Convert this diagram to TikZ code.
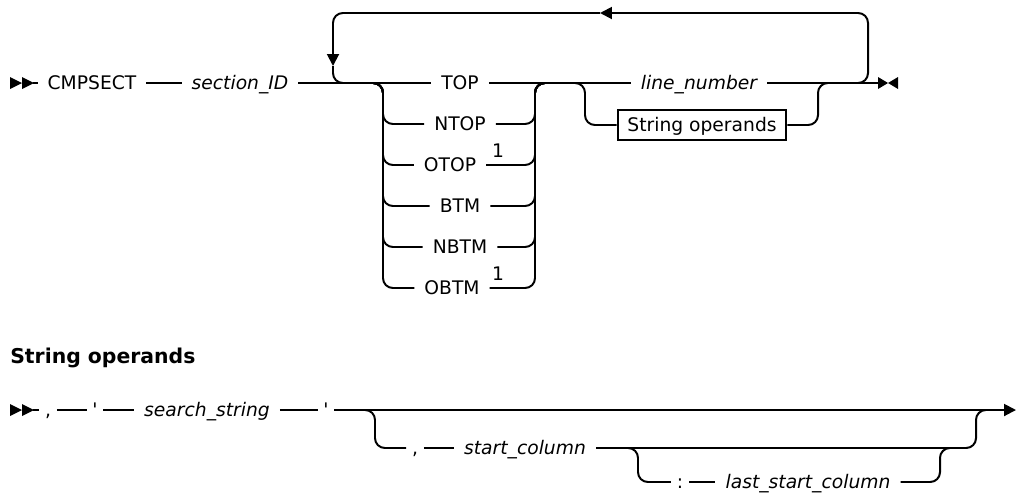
\documentclass[tikz,border=0pt]{standalone}
\usepackage{fontspec}
\setmainfont{DejaVu Sans}
\newfontfamily\quotefont{DejaVu Sans}[Ligatures=TeXOff]
\usetikzlibrary{arrows.meta,positioning}

\begin{document}
\begin{tikzpicture}[x=0.025cm, y=-0.025cm,
    rail/.style={line width=1.4pt, rounded corners=7pt},
    kw/.style={font=\fontsize{13.3}{16}\selectfont, inner xsep=7pt, inner ysep=2pt, text height=11.5pt, text depth=1.8pt},
    var/.style={kw, font=\fontsize{13.3}{16}\selectfont\itshape},
    sym/.style={kw, inner xsep=4pt},
    ref/.style={kw, draw, line width=1.4pt, inner xsep=7pt, inner ysep=4pt},
    note/.style={font=\fontsize{13.3}{16}\selectfont, inner sep=0pt},
    hdr/.style={font=\fontsize{14.5}{18}\selectfont\bfseries, inner sep=0pt, anchor=west},
    tip/.style={-{Triangle[length=8.5pt,width=8.5pt]}}
]
\useasboundingbox (0,0) rectangle (1016,496);

% --- Start / end markers ---
\foreach \y in {83,410} {
  \fill (10,\y-6) -- (22,\y) -- (10,\y+6) -- cycle;
  \fill (22,\y-6) -- (34,\y) -- (22,\y+6) -- cycle;
}
\fill (878,77) -- (888,83) -- (878,89) -- cycle;
\fill (898,77) -- (888,83) -- (898,89) -- cycle;

% --- Main diagram ---
\coordinate (in1) at (33,83);
\coordinate (out1) at (878,83);
\node[kw] (cmp) at (92,83) {CMPSECT};
\node[var] (sid) at (240,83) {section\_ID};
\node[kw] (top) at (460,83) {TOP};
\node[kw] (ntop) at (460,124) {NTOP};
\node[kw] (otop) at (450,165) {OTOP};
\node[kw] (btm) at (460,206) {BTM};
\node[kw] (nbtm) at (460,247) {NBTM};
\node[kw] (obtm) at (452,288) {OBTM};
\node[note] (fn1) at (498,151) {1};
\node[note] (fn2) at (498,274) {1};
\node[var] (lnum) at (699,83) {line\_number};
\node[ref] (sop) at (702,125) {String operands};

\draw[rail] (in1) -- (cmp);
\draw[rail] (cmp) -- (sid);
\draw[rail] (sid) -- (top);
\draw[rail] (top) -- (lnum);
\draw[rail] (lnum) -- (out1);

% choice of position keyword
\coordinate (c1in) at (372,83);
\coordinate (c1l) at (383,83);
\coordinate (c1r) at (535,83);
\coordinate (c1out) at (546,83);
\foreach \n in {ntop,otop,btm,nbtm,obtm} {
  \draw[rail] (c1in) -- (c1l) |- (\n);
  \draw[rail] (\n) -| (c1r) -- (c1out);
}

% line number or string operands
\coordinate (c2in) at (574,83);
\coordinate (c2l) at (585,83);
\coordinate (c2r) at (818,83);
\coordinate (c2out) at (829,83);
\draw[rail] (c2in) -- (c2l) |- (sop);
\draw[rail] (sop) -| (c2r) -- (c2out);

% repeat loop
\coordinate (lpR0) at (856,83);
\coordinate (lpR) at (868,83);
\coordinate (lpT) at (868,13);
\coordinate (lpA) at (600,13);
\coordinate (lpTL) at (333,13);
\coordinate (lpB) at (333,66);
\coordinate (lpBL) at (333,83);
\coordinate (lpEnd) at (346,83);
\draw[rail, tip] (lpR0) -- (lpR) -- (lpT) -- (lpA);
\draw[rail, tip] (lpA) -- (lpTL) -- (lpB);
\draw[rail] (lpB) -- (lpBL) -- (lpEnd);

% --- String operands fragment ---
\node[hdr] (soph) at (10,358) {String operands};
\coordinate (in2) at (33,410);
\coordinate (out2) at (1016,410);
\node[sym] (com1) at (48,410) {,};
\node[sym] (q1) at (95,410) {\quotefont '};
\node[var] (sstr) at (207,410) {search\_string};
\node[sym] (q2) at (326,410) {\quotefont '};
\draw[rail] (in2) -- (com1);
\draw[rail] (com1) -- (q1);
\draw[rail] (q1) -- (sstr);
\draw[rail] (sstr) -- (q2);
\draw[rail, tip] (q2) -- (out2);

\coordinate (b1in) at (364,410);
\coordinate (b1l) at (375,410);
\coordinate (b1r) at (976,410);
\coordinate (b1out) at (987,410);
\node[sym] (com2) at (415,448) {,};
\node[var] (scol) at (525,448) {start\_column};
\draw[rail] (b1in) -- (b1l) |- (com2);
\draw[rail] (com2) -- (scol);
\draw[rail] (scol) -| (b1r) -- (b1out);

\coordinate (b2in) at (627,448);
\coordinate (b2l) at (638,448);
\coordinate (b2r) at (940,448);
\coordinate (b2out) at (951,448);
\node[sym] (colon) at (680,482) {:};
\node[var] (lscol) at (808,482) {last\_start\_column};
\draw[rail] (b2in) -- (b2l) |- (colon);
\draw[rail] (colon) -- (lscol);
\draw[rail] (lscol) -| (b2r) -- (b2out);
\end{tikzpicture}
\end{document}
